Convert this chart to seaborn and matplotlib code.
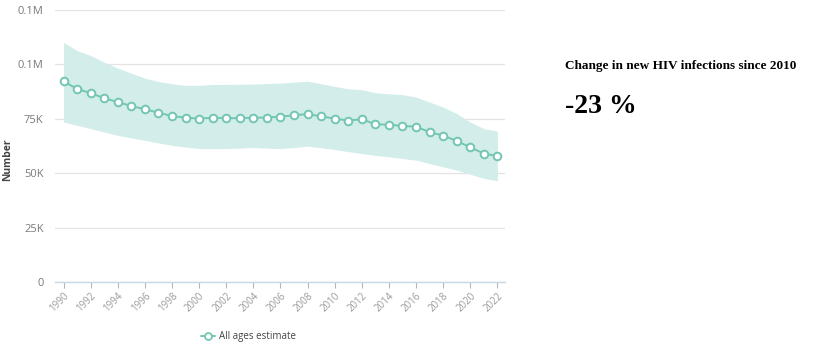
import matplotlib
matplotlib.use("Agg")
import matplotlib.pyplot as plt
import seaborn as sns
import pandas as pd
from matplotlib.ticker import FixedLocator, FixedFormatter

years = list(range(1990, 2023))
estimate = [92200, 88800, 86800, 84500, 82700, 80900, 79400, 77800, 76300, 75500,
            75100, 75500, 75300, 75300, 75500, 75600, 76000, 76600, 77200, 76100,
            75100, 74200, 74800, 72500, 72300, 71700, 71400, 68900, 67300, 64800,
            61900, 59000, 57900]
upper = [110200, 106400, 104100, 101000, 98300, 96000, 93700, 92200, 91100, 90400,
         90400, 90800, 90800, 90900, 91000, 91200, 91400, 91900, 92300, 91100,
         89900, 88800, 88400, 87000, 86500, 86100, 85000, 82700, 80400, 77400,
         73500, 70500, 69300]
lower = [73500, 72000, 70500, 68900, 67400, 66200, 65100, 63900, 62800, 62000,
         61300, 61300, 61300, 61500, 61800, 61500, 61300, 61800, 62400, 61700,
         60900, 59900, 59000, 58200, 57500, 56700, 56000, 54400, 52900, 51400,
         49500, 47600, 46500]
ytick_vals = [0, 25000, 50000, 75000, 100000, 125000]
ytick_labels = ["0", "25K", "50K", "75K", "0.1M", "0.1M"]
xtick_years = list(range(1990, 2023, 2))
series_name = "All ages estimate"
panel_title = "Change in new HIV infections since 2010"
panel_value = "-23 %"

df = pd.DataFrame({"Year": years, "Number": estimate, "Series": series_name})

sns.set_theme(style="white")
plt.rcParams["font.family"] = ["Open Sans", "DejaVu Sans"]

line_color = "#72c6b3"
band_color = "#d3eeea"

fig = plt.figure(figsize=(8.29, 3.48), dpi=100)
ax = fig.add_axes([0.066, 0.19, 0.543, 0.781])

ax.fill_between(years, lower, upper, color=band_color, linewidth=0, zorder=1)
sns.lineplot(data=df, x="Year", y="Number", hue="Series", palette=[line_color],
             marker="o", markersize=5.5, markerfacecolor="white",
             markeredgecolor=line_color, markeredgewidth=1.4, linewidth=1.4,
             ax=ax, zorder=3, legend=False)

ax.set_xlim(1989.35, 2022.55)
ax.set_ylim(0, 125000)
ax.yaxis.set_major_locator(FixedLocator(ytick_vals))
ax.yaxis.set_major_formatter(FixedFormatter(ytick_labels))
ax.set_xticks(xtick_years)
ax.set_xticklabels([str(y) for y in xtick_years], rotation=45, ha="right",
                   rotation_mode="anchor")
ax.tick_params(axis="x", colors="#b0b8bf", labelsize=7, length=4, width=0.8,
               direction="out", bottom=True, pad=2, labelcolor="#999999")
ax.tick_params(axis="y", labelsize=8, length=0, pad=8, labelcolor="#7a7a7a")
ax.grid(axis="y", color="#e3e3e3", linewidth=0.9, zorder=0)
ax.grid(axis="x", visible=False)
for s in ["top", "right", "left"]:
    ax.spines[s].set_visible(False)
ax.spines["bottom"].set_color("#c9d9e3")
ax.spines["bottom"].set_linewidth(1.0)
ax.set_xlabel("")
ax.set_ylabel("Number", fontsize=7.5, fontweight="bold", color="#444444")
ax.yaxis.set_label_coords(-0.092, 0.45)

handle = plt.Line2D([], [], color=line_color, marker="o", markersize=5,
                    markerfacecolor="white", markeredgecolor=line_color,
                    markeredgewidth=1.3, linewidth=1.4)
fig.legend([handle], [series_name], loc="center", bbox_to_anchor=(0.30, 0.033),
           frameon=False, fontsize=7, handlelength=1.4, handletextpad=0.4,
           labelcolor="#444444")

fig.text(0.682, 0.81, panel_title, family=["Liberation Serif", "DejaVu Serif"],
         fontweight="bold", fontsize=9.5, color="black", va="center")
fig.text(0.682, 0.695, panel_value, family=["Liberation Serif", "DejaVu Serif"],
         fontweight="bold", fontsize=20, color="black", va="center")

fig.savefig("out.png", dpi=100)
